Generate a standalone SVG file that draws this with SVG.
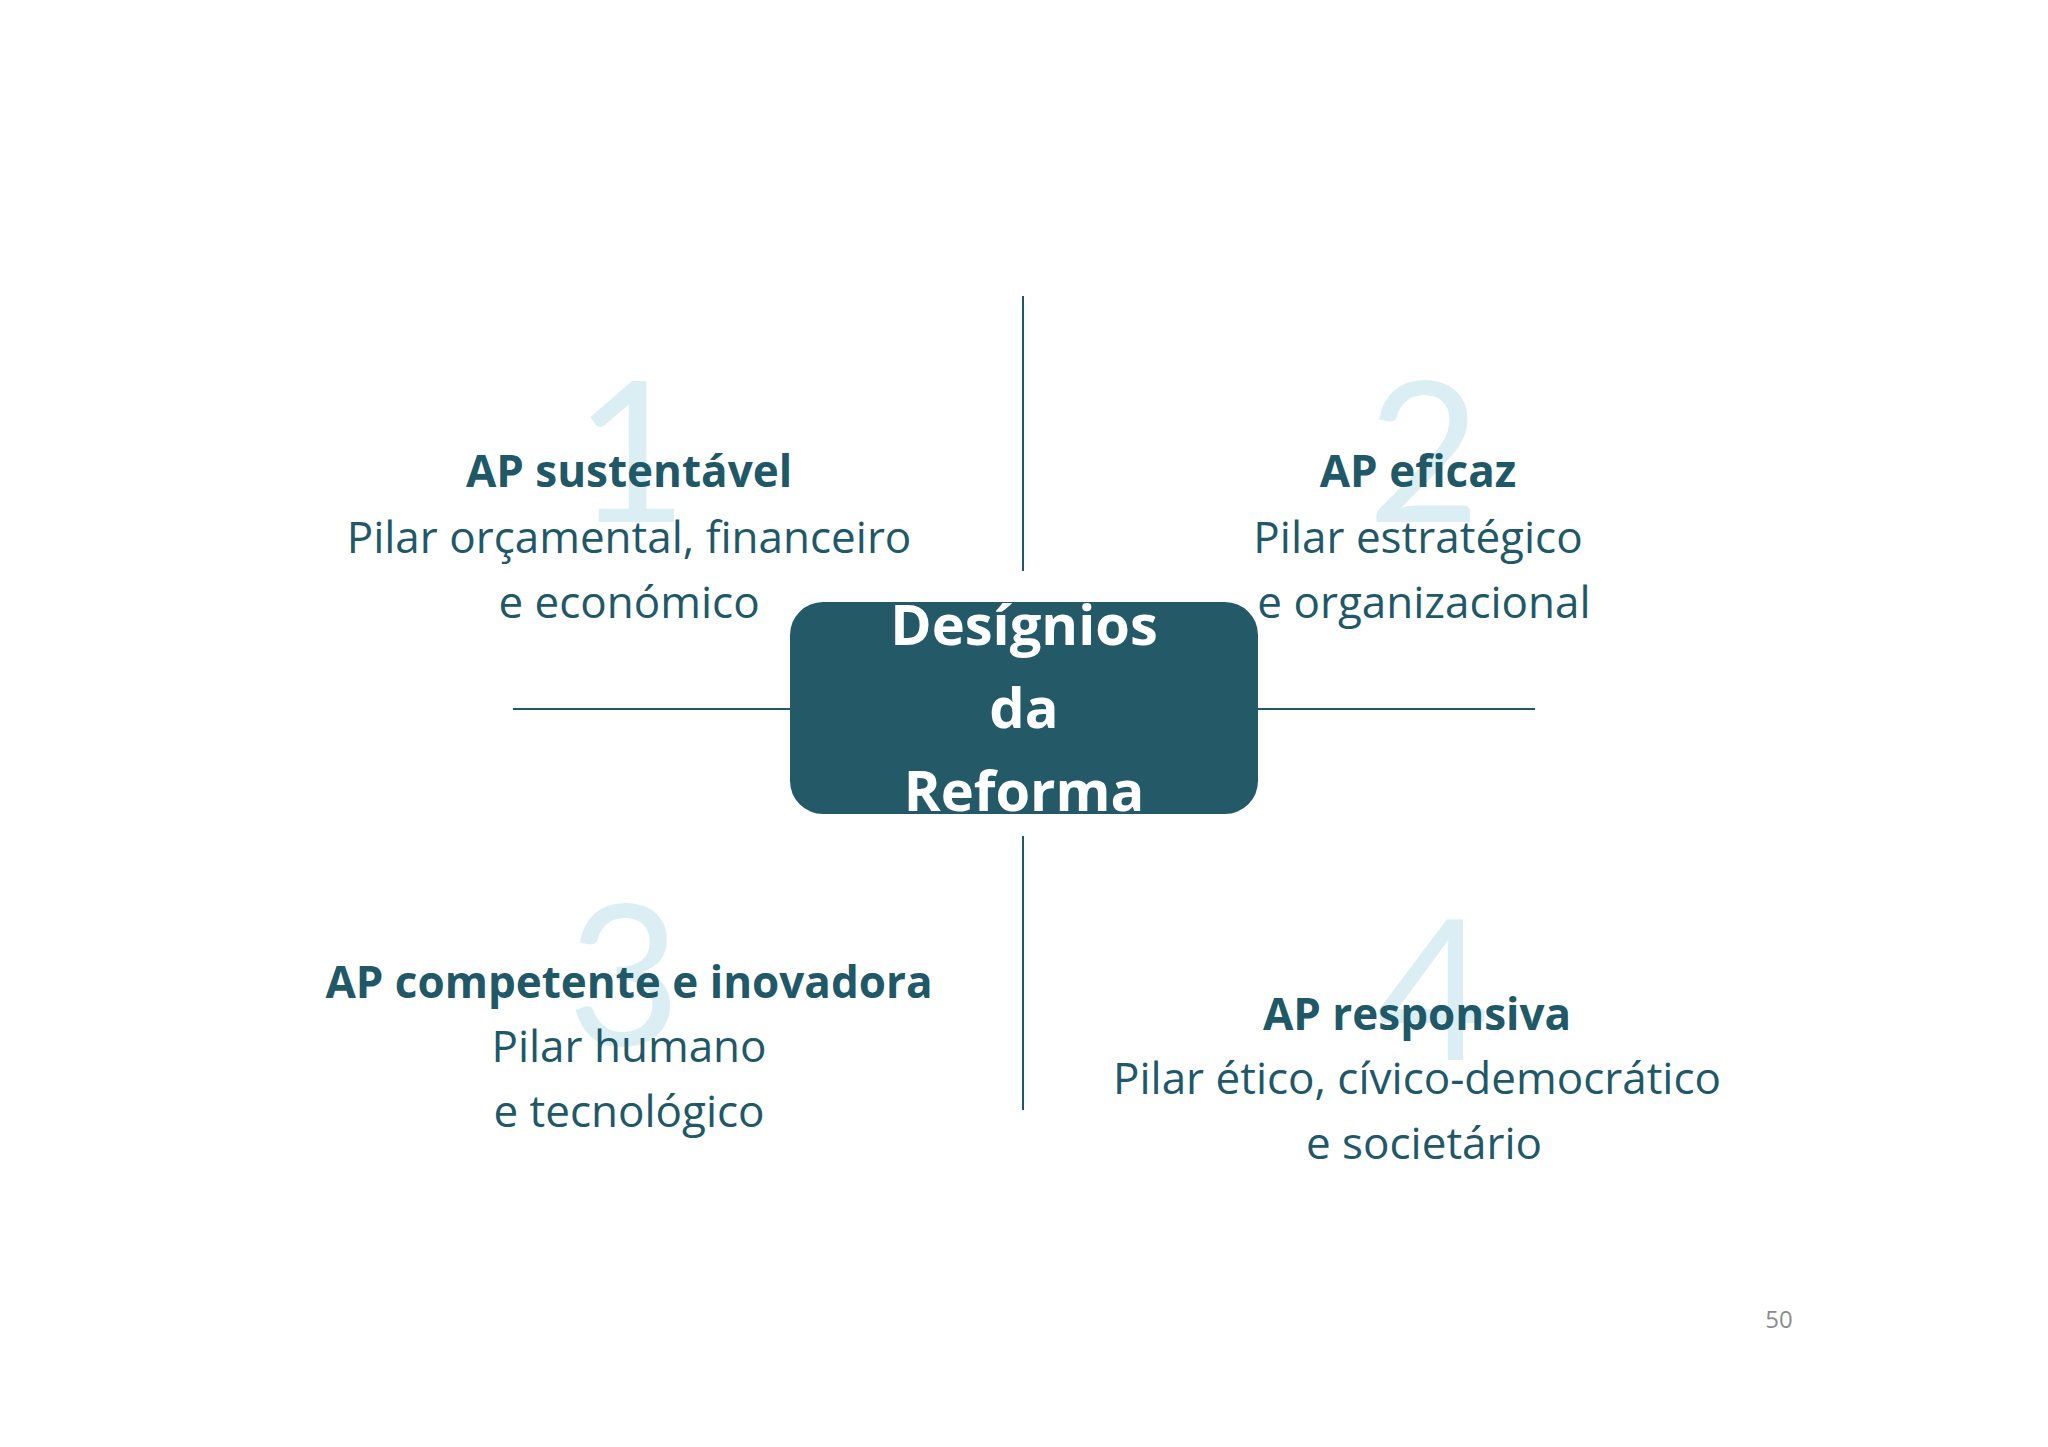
<svg xmlns="http://www.w3.org/2000/svg" width="2048" height="1447" viewBox="0 0 2048 1447">
<style>
.num{font-family:Lato,"Open Sans",sans-serif;font-size:196px;fill:#daeef3;text-anchor:middle}
.t{font-family:"Open Sans",Lato,sans-serif;font-size:44px;fill:#215868;text-anchor:middle}
.b{font-weight:bold}
.ln{stroke:#215868;stroke-width:2;fill:none}
.c{font-family:"Open Sans",Lato,sans-serif;font-size:56px;font-weight:bold;fill:#ffffff;text-anchor:middle}
</style>
<rect width="2048" height="1447" fill="#ffffff"/>
<g id="connectors">
<line class="ln" x1="1023" y1="296" x2="1023" y2="571"/>
<line class="ln" x1="1023" y1="836" x2="1023" y2="1110"/>
<line class="ln" x1="513" y1="709" x2="790" y2="709"/>
<line class="ln" x1="1258" y1="709" x2="1535" y2="709"/>
</g>
<g id="q1">
<text class="num" x="631" y="522">1</text>
<text class="t b" x="629" y="487">AP sustentável</text>
<text class="t" x="629" y="553">Pilar orçamental, financeiro</text>
<text class="t" x="629" y="618">e económico</text>
</g>
<g id="q2">
<text class="num" x="1424" y="522">2</text>
<text class="t b" x="1418" y="487">AP eficaz</text>
<text class="t" x="1418" y="553">Pilar estratégico</text>
<text class="t" x="1424" y="618">e organizacional</text>
</g>
<g id="q3">
<text class="num" x="624" y="1045">3</text>
<text class="t b" x="629" y="998">AP competente e inovadora</text>
<text class="t" x="629" y="1062">Pilar humano</text>
<text class="t" x="629" y="1127">e tecnológico</text>
</g>
<g id="q4">
<text class="num" x="1433" y="1060">4</text>
<text class="t b" x="1417" y="1030">AP responsiva</text>
<text class="t" x="1417" y="1094">Pilar ético, cívico-democrático</text>
<text class="t" x="1424" y="1159">e societário</text>
</g>
<g id="center">
<clipPath id="cb"><rect x="790" y="602" width="468" height="212" rx="33"/></clipPath>
<rect x="790" y="602" width="468" height="212" rx="33" fill="#245a68"/>
<g clip-path="url(#cb)">
<text class="c" x="1024" y="645">Desígnios</text>
<text class="c" x="1024" y="728">da</text>
<text class="c" x="1024" y="811">Reforma</text>
</g>
</g>
<text x="1779" y="1328" font-family="'Open Sans',Lato,sans-serif" font-size="24" fill="#8c8c8c" text-anchor="middle">50</text>
</svg>
